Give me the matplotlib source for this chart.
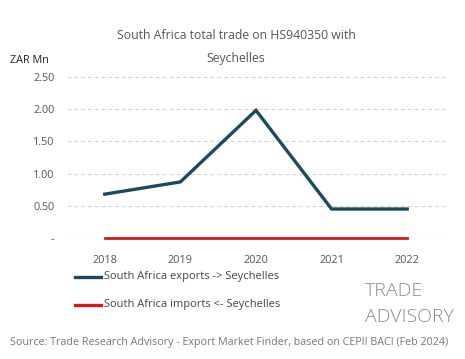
import matplotlib.pyplot as plt
from matplotlib.lines import Line2D

years = ['2018', '2019', '2020', '2021', '2022']
exports = [0.68, 0.87, 1.98, 0.45, 0.45]
imports = [0.0, 0.0, 0.0, 0.0, 0.0]
yticks = [0, 0.5, 1.0, 1.5, 2.0, 2.5]
ytick_labels = ['-', '0.50', '1.00', '1.50', '2.00', '2.50']

plt.rcParams['font.family'] = ['Open Sans', 'DejaVu Sans']

fig = plt.figure(figsize=(4.65, 3.59), dpi=100)
ax = fig.add_axes([0.144, 0.337, 0.813, 0.449])

x = range(len(years))
ax.axhline(0, color='#c8c8c8', lw=0.8, zorder=0)
ax.plot(x, exports, color='#1b4a5e', lw=2.4, solid_joinstyle='miter', zorder=3)
ax.plot(x, imports, color='#d7191c', lw=2.0, clip_on=False, zorder=3)

ax.set_xlim(-0.5, 4.5)
ax.set_ylim(0, 2.5)
ax.set_yticks(yticks)
ax.set_yticklabels(ytick_labels)
ax.set_xticks(list(x))
ax.set_xticklabels(years)
ax.tick_params(length=0, labelsize=7.8, colors='#555555', pad=9)
ax.tick_params(axis='x', pad=12)

for y in yticks[1:]:
    ax.axhline(y, color='#d0d0d0', lw=0.7, ls=(0, (4, 3)), zorder=0)
for s in ax.spines.values():
    s.set_visible(False)

fig.text(0.508, 0.9, 'South Africa total trade on HS940350 with', ha='center', va='center',
         fontsize=8.8, color='#555555')
fig.text(0.508, 0.838, 'Seychelles', ha='center', va='center', fontsize=8.8, color='#555555')
fig.text(0.022, 0.832, 'ZAR Mn', ha='left', va='center', fontsize=7.8, color='#222222')

# legend
fig.add_artist(Line2D([0.161, 0.218], [0.229, 0.229], color='#1b4a5e', lw=2.4))
fig.text(0.224, 0.231, 'South Africa exports -> Seychelles', ha='left', va='center',
         fontsize=8, color='#444444')
fig.add_artist(Line2D([0.161, 0.218], [0.151, 0.151], color='#d7191c', lw=2.4))
fig.text(0.224, 0.153, 'South Africa imports <- Seychelles', ha='left', va='center',
         fontsize=8, color='#444444')

# logo
fig.text(0.785, 0.19, 'TRADE', ha='left', va='center', fontsize=14, color='#8a8a8a',
         fontweight='light')
fig.text(0.785, 0.118, 'ADVISORY', ha='left', va='center', fontsize=14, color='#8a8a8a',
         fontweight='light')

fig.text(0.022, 0.045, 'Source: Trade Research Advisory - Export Market Finder, based on CEPII BACI (Feb 2024)',
         ha='left', va='center', fontsize=7.75, color='#777777')

fig.savefig('out.png', dpi=100, facecolor='white')
